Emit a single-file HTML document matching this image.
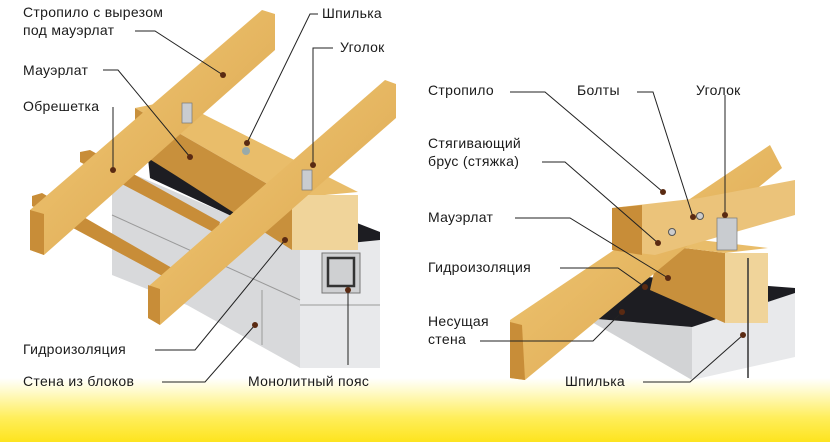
<!DOCTYPE html>
<html><head><meta charset="utf-8"><style>
html,body{margin:0;padding:0}
body{width:830px;height:442px;overflow:hidden;background:linear-gradient(to bottom,#fff 0,#fff 378px,#fffbd0 390px,#ffee5a 418px,#fde41e 442px);font-family:"Liberation Sans",sans-serif}
svg{position:absolute;left:0;top:0}
text{font-family:"Liberation Sans",sans-serif;font-size:14px;fill:#1a1a1a;letter-spacing:0.3px}
</style></head><body>
<svg width="830" height="442" viewBox="0 0 830 442">
<defs>
<linearGradient id="w" x1="0" y1="0" x2="1" y2="1"><stop offset="0" stop-color="#f3cc7a"/><stop offset="1" stop-color="#d9a24a"/></linearGradient>
</defs>
<!-- LEFT wall -->
<polygon points="112,165 300,245 300,368 187,305 112,275" fill="#d8d9db"/>
<polygon points="300,245 380,238 380,368 300,368" fill="#e8e9eb"/>
<line x1="112" y1="215" x2="300" y2="300" stroke="#9a9a9a"/>
<line x1="300" y1="305" x2="380" y2="305" stroke="#9a9a9a"/>
<line x1="262" y1="290" x2="262" y2="345" stroke="#9a9a9a"/>
<rect x="322" y="253" width="38" height="40" fill="#cfd0d2" stroke="#777"/>
<rect x="328" y="258" width="26" height="28" fill="none" stroke="#333" stroke-width="2.5"/>
<polygon points="148,158 170,150 380,232 380,240 300,248 150,178" fill="#1d1d22"/>
<!-- mauerlat -->
<polygon points="135,108 175,100 358,192 292,198" fill="#e9bd6a"/>
<polygon points="135,108 292,198 292,250 175,175 135,150" fill="#c8903c"/>
<rect x="292" y="195" width="66" height="55" fill="#f0d49a"/>
<!-- battens -->
<polygon points="80,152 90,150 220,222 217,234 80,162" fill="#c88d38"/>
<polygon points="32,196 42,193 172,268 168,279 32,206" fill="#c88d38"/>
<!-- rafters -->
<polygon points="30,210 262,10 275,14 275,50 44,255 30,250" fill="url(#w)"/>
<polygon points="30,210 44,214 44,255 30,250" fill="#c88d38"/>
<polygon points="150,285 385,80 396,84 396,118 160,325 148,318" fill="url(#w)"/>
<polygon points="148,285 160,289 160,325 148,318" fill="#c88d38"/>
<rect x="182" y="103" width="10" height="20" fill="#c9ccd0" stroke="#777" stroke-width=".7"/>
<rect x="302" y="170" width="10" height="20" fill="#c9ccd0" stroke="#777" stroke-width=".7"/>
<circle cx="246" cy="151" r="4" fill="#9aa"/>
<!-- RIGHT -->
<polygon points="585,318 692,327 692,380" fill="#d2d3d5"/>
<polygon points="692,327 795,293 795,357 692,380" fill="#e8e9eb"/>
<polygon points="620,275 795,288 795,293 692,327 585,318" fill="#1d1d22"/>
<polygon points="660,245 725,253 725,323 650,290" fill="#c8903c"/>
<polygon points="660,245 700,240 768,248 725,253" fill="#e9bd6a"/>
<rect x="725" y="253" width="43" height="70" fill="#f0d49a"/>
<polygon points="510,320 770,145 782,168 525,380 510,378" fill="url(#w)"/>
<polygon points="510,322 522,325 525,380 510,378" fill="#c88d38"/>
<polygon points="612,208 700,198 795,180 795,215 655,255 612,250" fill="#ebc37a"/>
<polygon points="612,208 642,205 642,255 612,250" fill="#c88d38"/>
<rect x="717" y="218" width="20" height="32" fill="#c9ccd0" stroke="#777" stroke-width=".7"/>
<line x1="748" y1="258" x2="748" y2="378" stroke="#333" stroke-width="1.5"/>
<circle cx="700" cy="216" r="3.5" fill="#ccc" stroke="#555"/><circle cx="672" cy="232" r="3.5" fill="#ccc" stroke="#555"/>
<!-- leaders -->
<g stroke="#222" stroke-width="1" fill="none">
<polyline points="135,31 155,31 223,75"/>
<polyline points="103,70 118,70 190,157"/>
<polyline points="113,107 113,170"/>
<polyline points="318,14 310,14 247,143"/>
<polyline points="333,48 313,48 313,165"/>
<polyline points="155,350 195,350 285,240"/>
<polyline points="162,382 205,382 255,325"/>
<polyline points="348,290 348,365"/>
<polyline points="510,92 545,92 663,192"/>
<polyline points="637,92 653,92 693,217"/>
<polyline points="725,95 725,215"/>
<polyline points="542,162 565,162 658,243"/>
<polyline points="515,218 570,218 668,278"/>
<polyline points="560,268 618,268 645,287"/>
<polyline points="480,341 593,341 622,312"/>
<polyline points="643,382 690,382 743,335"/>
</g>
<g fill="#5a2a12">
<circle cx="223" cy="75" r="3"/><circle cx="190" cy="157" r="3"/><circle cx="113" cy="170" r="3"/><circle cx="247" cy="143" r="3"/><circle cx="313" cy="165" r="3"/><circle cx="285" cy="240" r="3"/><circle cx="255" cy="325" r="3"/><circle cx="348" cy="290" r="3"/>
<circle cx="663" cy="192" r="3"/><circle cx="693" cy="217" r="3"/><circle cx="725" cy="215" r="3"/><circle cx="658" cy="243" r="3"/><circle cx="668" cy="278" r="3"/><circle cx="645" cy="287" r="3"/><circle cx="622" cy="312" r="3"/><circle cx="743" cy="335" r="3"/>
</g>
<!-- labels -->
<text x="23" y="17">Стропило с вырезом</text>
<text x="23" y="35">под мауэрлат</text>
<text x="23" y="75">Мауэрлат</text>
<text x="23" y="111">Обрешетка</text>
<text x="322" y="18">Шпилька</text>
<text x="340" y="52">Уголок</text>
<text x="23" y="354">Гидроизоляция</text>
<text x="23" y="386">Стена из блоков</text>
<text x="248" y="386">Монолитный пояс</text>
<text x="428" y="95">Стропило</text>
<text x="577" y="95">Болты</text>
<text x="696" y="95">Уголок</text>
<text x="428" y="148">Стягивающий</text>
<text x="428" y="166">брус (стяжка)</text>
<text x="428" y="222">Мауэрлат</text>
<text x="428" y="272">Гидроизоляция</text>
<text x="428" y="326">Несущая</text>
<text x="428" y="344">стена</text>
<text x="565" y="386">Шпилька</text>
</svg>
</body></html>
